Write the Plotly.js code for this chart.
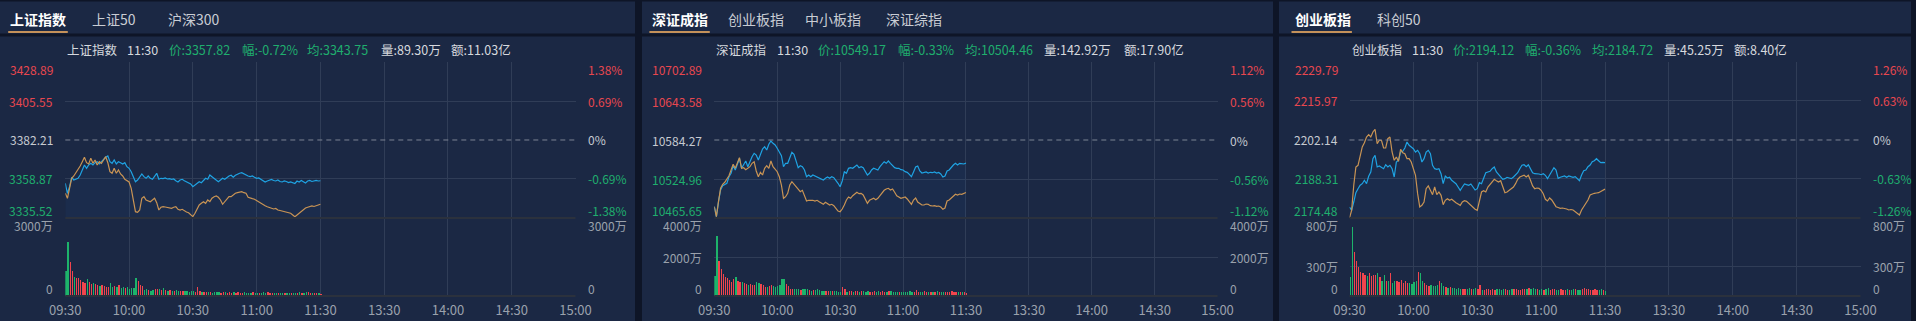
<!DOCTYPE html>
<html><head><meta charset="utf-8">
<script src="https://cdn.plot.ly/plotly-3.0.1.min.js"></script>
<style>html,body{margin:0;padding:0;background:#1b2844;overflow:hidden}#chart{width:1916px;height:321px}</style>
</head><body><div id="chart"></div>
<script>
// ---------- data ----------
const timeLabels = ['09:30','10:00','10:30','11:00','11:30','13:30','14:00','14:30','15:00'];
const timeTicks = [0,30,60,90,120,150,180,210,240];

// 上证指数
const shTabs = ['上证指数','上证50','沪深300'];
const shInfo = ['上证指数','11:30','价:3357.82','幅:-0.72%','均:3343.75','量:89.30万','额:11.03亿'];
const shPreClose = 3382.21;
const shPriceTicks = [3428.89, 3405.55, 3382.21, 3358.87, 3335.52];
const shPctLabels = ['1.38%','0.69%','0%','-0.69%','-1.38%'];
const shVolTicks = [0, 3000];
const shVolLabels = ['0','3000万'];
const shPrice = [
3356.29,3350.31,3354.26,3359.89,3358.27,3358.69,3359.29,3361.26,3364.25,3367.25,
3365.27,3367.25,3368.26,3367.25,3368.62,3369.22,3367.85,3369.22,3370.66,3371.86,
3372.63,3369.22,3368.26,3370.24,3367.85,3369.22,3368.62,3367.85,3368.62,3366.23,
3365.27,3363.24,3360.25,3357.25,3358.27,3360.25,3361.86,3360.25,3359.29,3360.66,
3359.29,3358.69,3360.66,3362.28,3358.69,3359.29,3359.05,3359.47,3358.87,3359.05,
3358.69,3358.87,3357.85,3357.07,3358.27,3358.69,3357.85,3357.25,3356.65,3355.88,
3354.26,3355.28,3356.29,3357.25,3356.65,3358.27,3359.29,3358.69,3361.26,3360.25,
3359.29,3358.69,3357.25,3358.27,3359.29,3358.69,3359.89,3360.66,3361.08,3359.89,
3361.08,3361.86,3362.28,3362.64,3361.86,3361.26,3360.66,3360.25,3360.66,3359.89,
3359.29,3359.47,3358.69,3357.85,3357.07,3357.67,3358.27,3358.57,3357.97,3357.67,
3358.27,3357.37,3357.07,3357.67,3357.37,3356.77,3357.07,3356.47,3356.18,3357.67,
3357.07,3357.97,3357.07,3356.47,3357.67,3357.97,3357.37,3357.67,3357.97,3357.67,
3357.82];
const shAvg = [
3350.31,3347.32,3353.30,3359.29,3360.66,3362.64,3364.25,3366.65,3369.22,3371.86,
3368.62,3367.85,3371.26,3368.26,3370.24,3367.25,3369.22,3368.26,3370.24,3372.22,
3368.62,3363.24,3362.28,3365.27,3362.28,3364.25,3361.86,3360.66,3358.69,3357.85,
3357.07,3353.30,3347.32,3339.30,3338.94,3340.31,3347.32,3348.28,3346.30,3345.88,
3345.28,3346.30,3347.32,3344.68,3340.31,3341.93,3342.29,3342.11,3341.93,3341.51,
3341.33,3341.93,3342.29,3340.73,3340.31,3340.73,3339.72,3339.12,3338.70,3337.74,
3336.31,3338.34,3341.33,3343.31,3344.33,3345.28,3344.33,3346.30,3345.28,3347.32,
3348.28,3348.69,3347.92,3346.30,3343.73,3345.28,3347.32,3348.28,3348.28,3349.29,
3350.31,3350.67,3351.09,3351.27,3350.67,3350.31,3347.92,3347.32,3347.08,3346.72,
3345.88,3345.10,3344.68,3343.73,3342.89,3342.29,3341.81,3341.33,3340.91,3341.21,
3340.31,3340.02,3339.72,3339.30,3339.12,3338.82,3338.34,3337.32,3336.31,3337.32,
3338.34,3339.12,3340.31,3341.51,3341.93,3342.41,3342.71,3342.41,3342.71,3343.31,
3343.75];
const shVol = [
962,2090,1320,962,744,680,705,615,551,513,
641,551,462,487,462,423,385,423,385,359,
359,487,333,385,359,410,295,333,321,359,
282,295,321,680,590,423,385,231,256,231,
205,231,256,256,256,231,295,231,205,218,
205,192,218,205,192,179,205,192,166,179,
192,154,333,192,166,154,141,154,141,128,
141,154,141,128,141,154,128,141,128,141,
128,141,115,128,141,128,115,128,141,115,
128,115,128,154,128,141,115,128,103,115,
128,103,115,103,128,115,103,115,103,115,
154,103,128,141,154,115,103,128,103,115,
90];

// 深证成指
const szTabs = ['深证成指','创业板指','中小板指','深证综指'];
const szInfo = ['深证成指','11:30','价:10549.17','幅:-0.33%','均:10504.46','量:142.92万','额:17.90亿'];
const szPreClose = 10584.27;
const szPriceTicks = [10702.89, 10643.58, 10584.27, 10524.96, 10465.65];
const szPctLabels = ['1.12%','0.56%','0%','-0.56%','-1.12%'];
const szVolTicks = [0, 2000, 4000];
const szVolLabels = ['0','2000万','4000万'];
const szPrice = [
10482.83,10467.62,10490.44,10508.23,10514.77,10516.90,10518.42,10528.46,10533.63,10545.19,
10538.65,10547.31,10556.44,10541.23,10546.25,10552.33,10543.66,10552.33,10558.87,10564.04,
10561.46,10553.85,10564.04,10570.58,10574.08,10569.06,10577.73,10582.75,10579.25,10576.67,
10571.65,10566.48,10560.39,10543.66,10548.84,10548.84,10558.87,10565.56,10562.52,10551.27,
10542.14,10545.19,10543.66,10538.65,10528.46,10531.04,10528.46,10531.04,10529.52,10528.46,
10527.54,10526.02,10523.44,10526.02,10528.00,10526.02,10528.46,10526.94,10523.44,10518.42,
10513.25,10521.92,10536.06,10533.63,10541.23,10542.14,10541.23,10543.66,10546.25,10542.14,
10543.66,10542.14,10536.06,10531.04,10533.63,10538.65,10541.23,10540.17,10538.65,10543.66,
10547.31,10551.27,10548.84,10552.33,10548.84,10545.19,10542.14,10541.23,10541.23,10539.10,
10538.65,10536.06,10535.15,10532.11,10528.46,10535.60,10543.21,10544.73,10537.13,10534.08,
10534.54,10535.60,10534.08,10535.15,10534.54,10535.60,10534.08,10534.84,10532.56,10528.00,
10529.52,10537.13,10538.65,10543.21,10546.25,10548.84,10546.25,10548.84,10547.77,10547.77,
10549.17];
const szAvg = [
10482.83,10467.62,10490.44,10510.82,10516.90,10519.94,10524.96,10529.98,10538.65,10547.31,
10541.23,10548.84,10557.35,10541.23,10542.14,10539.10,10541.23,10543.66,10548.84,10551.27,
10537.13,10528.46,10535.15,10531.04,10541.23,10545.19,10541.23,10552.33,10543.66,10540.17,
10536.06,10528.46,10515.83,10495.61,10498.04,10503.21,10515.83,10520.85,10516.90,10511.73,
10508.23,10505.64,10507.77,10500.63,10491.50,10492.57,10493.02,10492.57,10491.50,10492.57,
10490.44,10488.46,10486.48,10489.52,10488.00,10485.42,10486.48,10484.35,10480.40,10476.29,
10475.23,10479.33,10485.42,10493.02,10497.58,10495.61,10499.56,10502.60,10504.73,10502.60,
10503.21,10500.63,10494.54,10488.00,10492.57,10494.54,10495.61,10493.48,10495.61,10499.56,
10504.73,10507.77,10509.75,10510.82,10508.23,10509.75,10504.73,10499.56,10497.58,10495.61,
10496.52,10497.58,10494.54,10490.44,10486.48,10493.02,10496.06,10489.98,10486.94,10485.42,
10485.42,10486.94,10486.48,10484.35,10483.90,10484.35,10483.44,10483.90,10482.38,10478.88,
10480.86,10491.50,10493.02,10496.06,10499.11,10501.69,10500.63,10502.15,10501.69,10503.67,
10504.46];
const szVol = [
1043,3077,1795,1367,1128,991,906,820,735,855,
991,786,735,735,684,615,564,615,564,564,
735,649,615,564,479,444,513,564,513,479,
513,564,855,855,615,513,342,376,342,342,
342,308,376,342,342,308,273,308,308,342,
308,273,273,273,256,239,273,239,239,222,
222,479,342,222,256,239,222,256,239,222,
239,256,222,239,222,205,239,222,256,222,
239,205,222,239,256,222,205,222,205,222,
188,205,222,239,205,222,308,222,205,222,
239,205,222,205,188,222,239,205,222,205,
188,222,205,239,205,188,222,205,188,205,
171];

// 创业板指
const cyTabs = ['创业板指','科创50'];
const cyInfo = ['创业板指','11:30','价:2194.12','幅:-0.36%','均:2184.72','量:45.25万','额:8.40亿'];
const cyPreClose = 2202.14;
const cyPriceTicks = [2229.79, 2215.97, 2202.14, 2188.31, 2174.48];
const cyPctLabels = ['1.26%','0.63%','0%','-0.63%','-1.26%'];
const cyVolTicks = [0, 300, 800];
const cyVolLabels = ['0','300万','800万'];
const cyPrice = [
2178.38,2177.21,2180.15,2183.45,2184.87,2186.08,2186.64,2187.85,2186.64,2189.27,
2190.79,2195.51,2196.71,2192.57,2192.92,2192.57,2191.96,2193.38,2192.57,2193.17,
2191.96,2189.02,2194.34,2194.94,2197.88,2198.13,2199.30,2201.43,2200.26,2199.66,
2199.05,2197.88,2198.49,2197.28,2194.34,2195.51,2197.88,2198.49,2197.28,2193.17,
2191.96,2191.75,2191.96,2190.19,2186.64,2189.37,2188.66,2188.91,2187.85,2187.25,
2186.64,2185.47,2184.30,2185.47,2186.54,2186.29,2186.08,2186.54,2185.47,2184.41,
2184.87,2187.00,2186.64,2189.02,2190.54,2190.79,2191.04,2191.96,2192.57,2190.79,
2189.83,2189.27,2188.20,2188.42,2188.91,2188.66,2188.42,2189.02,2189.62,2190.54,
2191.96,2193.17,2193.38,2192.67,2193.38,2191.96,2190.54,2190.19,2190.19,2190.08,
2189.83,2190.19,2189.62,2188.42,2189.73,2190.90,2192.32,2191.50,2188.56,2188.91,
2189.13,2189.37,2188.91,2189.37,2189.13,2188.91,2189.13,2188.42,2187.71,2189.73,
2191.25,2191.50,2192.67,2193.27,2194.44,2194.80,2195.51,2194.80,2194.09,2194.23,
2194.12];
const cyAvg = [
2174.48,2177.21,2186.08,2192.57,2193.17,2196.11,2199.66,2201.18,2203.20,2204.02,
2203.20,2204.98,2205.93,2200.83,2202.03,2202.03,2199.30,2199.30,2202.60,2203.20,
2197.88,2194.94,2196.11,2194.59,2198.84,2197.64,2197.28,2195.51,2195.51,2194.34,
2192.32,2189.62,2183.10,2178.38,2178.98,2180.15,2184.87,2185.83,2184.30,2182.74,
2185.47,2182.74,2183.70,2182.53,2179.20,2180.76,2181.32,2180.76,2181.11,2180.40,
2179.91,2179.44,2178.98,2180.15,2180.61,2180.40,2179.69,2178.98,2178.27,2177.56,
2177.21,2180.15,2183.70,2184.16,2183.70,2185.47,2186.43,2187.60,2188.20,2187.71,
2187.25,2187.71,2185.47,2183.45,2183.70,2184.41,2185.12,2185.47,2186.64,2188.20,
2189.02,2189.37,2189.62,2189.02,2189.62,2187.85,2185.83,2184.87,2185.12,2185.01,
2184.30,2183.10,2181.11,2180.51,2181.57,2180.86,2179.69,2178.49,2178.20,2177.92,
2178.03,2177.92,2177.67,2177.32,2177.49,2177.32,2176.78,2176.15,2175.54,2177.32,
2178.49,2179.80,2180.86,2182.64,2182.99,2183.24,2183.35,2183.45,2183.88,2184.16,
2184.72];
const cyVol = [
191,711,448,362,294,250,239,215,205,232,
205,215,215,232,198,157,215,154,157,232,
137,157,157,147,164,137,157,137,130,123,
147,157,250,239,154,137,113,103,113,103,
103,110,154,130,103,89,79,89,79,79,
72,79,68,72,68,72,79,68,72,79,
75,113,62,65,68,72,65,68,62,72,
68,65,72,68,62,65,72,75,68,65,
62,68,72,75,79,75,82,72,68,65,
72,62,68,82,62,72,68,65,62,68,
65,62,68,65,62,68,72,65,62,75,
82,68,72,65,62,68,65,62,68,62,
55];

// ---------- layout geometry / style ----------
const W = 1916, H = 321;
const FONT = '"Noto Sans CJK SC", "Noto Sans", sans-serif';
const BG = '#1b2844', DARK = '#0e1527', GRID = '#303d57', SEP = '#2b313d';
const RED = '#e8474f', GREEN = '#1fae6e', ZERO = '#c6cad1', AXIS = '#9aa1ac', INFO = '#d6d9de';
const BAR_RED = '#f0454d', BAR_GREEN = '#1db36b';
const LINE_BLUE = '#1fa3e3', LINE_ORANGE = '#c99454';
const px = v => v / W, py = v => 1 - v / H;
const PRICE_TOP = 62, PRICE_BOT = 218, VOL_BOT = 296;

const geom = [
  {x0: 0, x1: 635, plotL: 65.3, plotR: 575.5,
   tabX: [37.6, 113.9, 194.3], ul: [8.2, 67.8],
   infoX: [65.3, 124.5, 166.5, 239.6, 305.3, 378.8, 449]},
  {x0: 642, x1: 1273, plotL: 714.3, plotR: 1217.6,
   tabX: [680.2, 756, 832.5, 914.1], ul: [649.4, 709.8],
   infoX: [714.3, 774.7, 815.6, 896, 962.5, 1042, 1121.7]},
  {x0: 1279, x1: 1911, plotL: 1349.5, plotR: 1860.5,
   tabX: [1322.5, 1398.5], ul: [1291.5, 1351.9],
   infoX: [1349.5, 1409.9, 1450.7, 1523, 1589.5, 1661.7, 1732]}
];

const panels = [
  {tabs: shTabs, info: shInfo, pre: shPreClose, ticks: shPriceTicks, pct: shPctLabels, vt: shVolTicks, vl: shVolLabels, price: shPrice, avg: shAvg, vol: shVol},
  {tabs: szTabs, info: szInfo, pre: szPreClose, ticks: szPriceTicks, pct: szPctLabels, vt: szVolTicks, vl: szVolLabels, price: szPrice, avg: szAvg, vol: szVol},
  {tabs: cyTabs, info: cyInfo, pre: cyPreClose, ticks: cyPriceTicks, pct: cyPctLabels, vt: cyVolTicks, vl: cyVolLabels, price: cyPrice, avg: cyAvg, vol: cyVol}
];

const traces = [], shapes = [], annotations = [];
const layout = {
  width: W, height: H, margin: {l: 0, r: 0, t: 0, b: 0, pad: 0},
  paper_bgcolor: BG, plot_bgcolor: 'rgba(0,0,0,0)', showlegend: false,
  font: {family: FONT, color: AXIS, size: 12}, hovermode: false
};

// global decorations
shapes.push({type: 'rect', xref: 'paper', yref: 'paper', x0: 0, x1: 1, y0: py(1.5), y1: 1, fillcolor: DARK, line: {width: 0}, layer: 'below'});
shapes.push({type: 'rect', xref: 'paper', yref: 'paper', x0: 0, x1: 1, y0: py(36.5), y1: py(33.5), fillcolor: DARK, line: {width: 0}, layer: 'below'});
[[635, 642], [1273, 1279], [1911, 1916]].forEach(g => {
  shapes.push({type: 'rect', xref: 'paper', yref: 'paper', x0: px(g[0]), x1: px(g[1]), y0: 0, y1: 1, fillcolor: DARK, line: {width: 0}, layer: 'below'});
});

panels.forEach((p, i) => {
  const g = geom[i];
  const n = i + 1;
  const xid = n === 1 ? 'x' : 'x' + n;
  const yid = n === 1 ? 'y' : 'y' + n;
  const vid = 'y' + (n + 3);
  const xkey = n === 1 ? 'xaxis' : 'xaxis' + n;
  const ykey = n === 1 ? 'yaxis' : 'yaxis' + n;
  const vkey = 'yaxis' + (n + 3);
  const idx = p.price.map((_, k) => k);
  const vmax = p.vt[p.vt.length - 1];

  layout[xkey] = {
    domain: [px(g.plotL), px(g.plotR)], range: [0, 240], anchor: vid,
    tickvals: timeTicks, ticktext: timeLabels, ticks: '', ticklabelstandoff: 5,
    showgrid: true, gridcolor: GRID, gridwidth: 1, zeroline: false, showline: false,
    tickfont: {family: FONT, size: 13, color: AXIS}, fixedrange: true
  };
  layout[ykey] = {
    domain: [py(PRICE_BOT), py(PRICE_TOP)], range: [p.ticks[4], p.ticks[0]], anchor: xid,
    tickvals: [p.ticks[0], p.ticks[1], p.ticks[3]], showticklabels: false, ticks: '',
    showgrid: true, gridcolor: GRID, gridwidth: 1, zeroline: false, showline: false, fixedrange: true
  };
  layout[vkey] = {
    domain: [py(VOL_BOT), py(PRICE_BOT)], range: [0, vmax], anchor: xid,
    tickvals: p.vt.slice(1, -1), showticklabels: false, ticks: '',
    showgrid: true, gridcolor: GRID, gridwidth: 1, zeroline: false, showline: false, fixedrange: true
  };

  // price line with fill, average line
  traces.push({type: 'scatter', mode: 'lines', x: idx, y: p.price, xaxis: xid, yaxis: yid,
    line: {color: LINE_BLUE, width: 1.2}, fill: 'tozeroy', fillcolor: 'rgba(40,125,205,0.06)'});
  traces.push({type: 'scatter', mode: 'lines', x: idx, y: p.avg, xaxis: xid, yaxis: yid,
    line: {color: LINE_ORANGE, width: 1.2}});
  // volume bars
  const cols = p.vol.map((v, k) => p.price[k] >= (k ? p.price[k - 1] : p.pre) ? BAR_RED : BAR_GREEN);
  traces.push({type: 'bar', x: idx, y: p.vol, xaxis: xid, yaxis: vid,
    marker: {color: cols, line: {width: 0}}, width: 0.6, offset: 0});

  // zero line (previous close), separators
  shapes.push({type: 'line', xref: xid + ' domain', yref: yid, x0: 0, x1: 1, y0: p.pre, y1: p.pre,
    line: {color: '#7d8594', width: 1, dash: '5px,4px'}});
  shapes.push({type: 'line', xref: xid + ' domain', yref: vid + ' domain', x0: 0, x1: 1, y0: 1, y1: 1,
    line: {color: SEP, width: 2}});
  shapes.push({type: 'line', xref: xid + ' domain', yref: vid + ' domain', x0: 0, x1: 1, y0: 0, y1: 0,
    line: {color: SEP, width: 2}});

  // tab underline
  shapes.push({type: 'rect', xref: 'paper', yref: 'paper', x0: px(g.ul[0]), x1: px(g.ul[1]), y0: py(33), y1: py(31),
    fillcolor: '#c4915a', line: {width: 0}});

  // tabs
  p.tabs.forEach((t, k) => {
    annotations.push({xref: 'paper', yref: 'paper', x: px(g.tabX[k]), y: py(19), xanchor: 'center', yanchor: 'middle',
      text: k === 0 ? '<b>' + t + '</b>' : t, showarrow: false,
      font: {family: FONT, size: 14, color: k === 0 ? '#ffffff' : '#c9cdd4'}});
  });

  // info line
  const infoCols = [INFO, INFO, GREEN, GREEN, GREEN, INFO, INFO];
  p.info.forEach((t, k) => {
    annotations.push({xref: 'paper', yref: 'paper', x: px(g.infoX[k]), y: py(49), xanchor: 'left', yanchor: 'middle',
      text: t, showarrow: false, font: {family: FONT, size: 12.5, color: infoCols[k]}});
  });

  // price & percent labels
  p.ticks.forEach((v, k) => {
    const col = k < 2 ? RED : (k === 2 ? ZERO : GREEN);
    const ys = k === 0 ? -7 : (k === 4 ? 8 : 0);
    annotations.push({xref: 'paper', yref: yid, x: px(g.plotL), y: v, xanchor: 'right', yanchor: 'middle',
      xshift: -10, yshift: ys, text: v.toFixed(2), showarrow: false, font: {family: FONT, size: 12, color: col}});
    annotations.push({xref: 'paper', yref: yid, x: px(g.plotR), y: v, xanchor: 'left', yanchor: 'middle',
      xshift: 10, yshift: ys, text: p.pct[k], showarrow: false, font: {family: FONT, size: 12, color: col}});
  });

  // volume labels
  p.vt.forEach((v, k) => {
    const ys = k === 0 ? 8 : (k === p.vt.length - 1 ? -7 : 0);
    annotations.push({xref: 'paper', yref: vid, x: px(g.plotL), y: v, xanchor: 'right', yanchor: 'middle',
      xshift: -10, yshift: ys, text: p.vl[k], showarrow: false, font: {family: FONT, size: 12, color: AXIS}});
    annotations.push({xref: 'paper', yref: vid, x: px(g.plotR), y: v, xanchor: 'left', yanchor: 'middle',
      xshift: 10, yshift: ys, text: p.vl[k], showarrow: false, font: {family: FONT, size: 12, color: AXIS}});
  });
});

layout.shapes = shapes;
layout.annotations = annotations;
layout.bargap = 0;
Plotly.newPlot('chart', traces, layout, {staticPlot: true, displayModeBar: false});
</script>
</body></html>
